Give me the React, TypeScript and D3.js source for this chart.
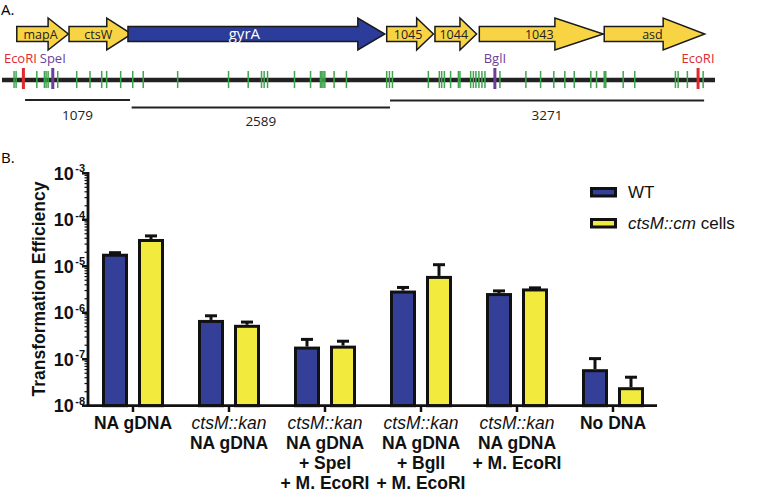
import React, { useRef, useEffect } from "react";
import * as d3 from "d3";

// ---- panel A: gene map (positions in bp, EcoRI = 0) ----
const geneNames = ["mapA", "ctsW", "gyrA", "1045", "1044", "1043", "asd"];
const geneStart = [-68, 469, 1075, 3735, 4231, 4687, 5971];
const geneHead = [254, 857, 3438, 4043, 4488, 5464, 6577];
const geneEnd = [462, 1113, 3715, 4215, 4659, 5961, 7004];

const greenSites = [
  -96, -75, 138, 216, 233, 254, 353, 548, 685, 805, 856, 1000, 1124, 1232, 1586,
  2109, 2311, 2448, 2475, 2510, 2787, 2952, 3054, 3068, 3081, 3099, 3194, 3321,
  3735, 3763, 3794, 4163, 4276, 4300, 4328, 4392, 4472, 4488, 4598, 4626, 4652,
  4683, 4714, 4745, 4899, 5166, 5317, 5453, 5566, 5663, 5833, 5892, 5971, 5987,
  6166, 6285, 6703, 6731, 6826, 6988,
];
const enzymeNames = ["EcoRI", "SpeI", "BglI", "EcoRI"];
const enzymePos = [0, 302, 4847, 6936];
const fragmentLabels = ["1079", "2589", "3271"];
const fragmentStart = [17, 1113, 3769];
const fragmentEnd = [1096, 3769, 6998];

// ---- panel B: transformation efficiency ----
const groups = ["g1", "g2", "g3", "g4", "g5", "g6"];
const groupLabels = [
  ["NA gDNA"],
  ["ctsM::kan", "NA gDNA"],
  ["ctsM::kan", "NA gDNA", "+ SpeI", "+ M. EcoRI"],
  ["ctsM::kan", "NA gDNA", "+ BglI", "+ M. EcoRI"],
  ["ctsM::kan", "NA gDNA", "+ M. EcoRI"],
  ["No DNA"],
];
const series = ["WT", "cm"];
const wtValues = [1.86e-5, 7.0e-7, 1.87e-7, 3.0e-6, 2.65e-6, 6.1e-8];
const wtErr = [0.1e-5, 1.6e-7, 0.8e-7, 0.5e-6, 0.3e-6, 4.2e-8];
const cmValues = [3.86e-5, 5.5e-7, 1.96e-7, 6.2e-6, 3.33e-6, 2.5e-8];
const cmErr = [0.64e-5, 0.8e-7, 0.48e-7, 4.6e-6, 0.1e-6, 1.6e-8];
const yTickExps = [-3, -4, -5, -6, -7, -8];

const FONT = "'Liberation Sans', Arial, Helvetica, sans-serif";
const MAPFONT = "'Open Sans', 'Liberation Sans', Arial, sans-serif";

export default function App() {
  const ref = useRef<SVGSVGElement>(null);

  useEffect(() => {
    const svg = d3.select(ref.current);
    svg.selectAll("*").remove();

    // ================= Panel A =================
    svg.append("text").attr("x", 1).attr("y", 15).attr("font-family", MAPFONT)
      .attr("font-size", 15).text("A.");

    const mx = d3.scaleLinear().domain([-220, 7110]).range([2, 715]);
    const cy = 34;
    const gA = svg.append("g");
    geneNames.forEach((name, i) => {
      const s = mx(geneStart[i]), h = mx(geneHead[i]), e = mx(geneEnd[i]);
      const pts: [number, number][] = [
        [s, cy - 7.5], [h, cy - 7.5], [h, cy - 16], [e, cy],
        [h, cy + 16], [h, cy + 7.5], [s, cy + 7.5],
      ];
      const isBlue = name === "gyrA";
      gA.append("path")
        .attr("d", d3.line()(pts) + "Z")
        .attr("fill", isBlue ? "#2c3c9a" : "#f8d444")
        .attr("stroke", "#1a1a1a")
        .attr("stroke-width", 1.5)
        .attr("stroke-linejoin", "miter");
      gA.append("text")
        .attr("x", (s + e) / 2 - (isBlue ? 12 : 2))
        .attr("y", cy + 4.5)
        .attr("text-anchor", "middle")
        .attr("font-family", MAPFONT)
        .attr("font-size", isBlue ? 15 : 12.5)
        .attr("fill", isBlue ? "#ffffff" : "#222")
        .text(name);
    });

    // DNA line
    const lineY = 80;
    gA.append("line").attr("x1", mx(-220)).attr("x2", mx(7110))
      .attr("y1", lineY).attr("y2", lineY)
      .attr("stroke", "#222").attr("stroke-width", 4.5);
    gA.selectAll("line.site").data(greenSites).join("line")
      .attr("class", "site")
      .attr("x1", (d) => mx(d)).attr("x2", (d) => mx(d))
      .attr("y1", lineY - 9).attr("y2", lineY + 8)
      .attr("stroke", "#3fa64e").attr("stroke-width", 1.5);
    enzymeNames.forEach((name, i) => {
      const col = name === "EcoRI" ? "#e02a2e" : "#6b3f98";
      const x = mx(enzymePos[i]);
      gA.append("line").attr("x1", x).attr("x2", x)
        .attr("y1", lineY - 12).attr("y2", lineY + 9)
        .attr("stroke", col).attr("stroke-width", 3);
      gA.append("text").attr("x", x - (i === 0 ? 3 : 0)).attr("y", 63)
        .attr("text-anchor", "middle").attr("font-family", MAPFONT)
        .attr("font-size", 13).attr("fill", col).text(name);
    });

    // fragments
    const fragY = [100, 107.5, 100.5];
    const fragLabelY = [120, 126, 120];
    fragmentLabels.forEach((lab, i) => {
      gA.append("line").attr("x1", mx(fragmentStart[i])).attr("x2", mx(fragmentEnd[i]))
        .attr("y1", fragY[i]).attr("y2", fragY[i])
        .attr("stroke", "#222").attr("stroke-width", 2);
      gA.append("text")
        .attr("x", (mx(fragmentStart[i]) + mx(fragmentEnd[i])) / 2)
        .attr("y", fragLabelY[i]).attr("text-anchor", "middle")
        .attr("font-family", MAPFONT).attr("font-size", 13.5).attr("fill", "#222")
        .text(lab);
    });

    // ================= Panel B =================
    svg.append("text").attr("x", 1).attr("y", 163).attr("font-family", MAPFONT)
      .attr("font-size", 15).text("B.");

    const y = d3.scaleLog().domain([1e-8, 1e-3]).range([405.7, 173.3]);
    const x0 = d3.scaleBand().domain(groups).range([85, 661]);
    const x1 = d3.scaleBand().domain(series).range([-31, 31]).paddingInner(0.278);
    const axisX = 88;
    const g = svg.append("g");

    const colors: Record<string, string> = { WT: "#343f98", cm: "#f2ea3c" };
    const vals: Record<string, number[]> = { WT: wtValues, cm: cmValues };
    const errs: Record<string, number[]> = { WT: wtErr, cm: cmErr };

    groups.forEach((gr, i) => {
      const cx = x0(gr)! + x0.bandwidth() / 2;
      series.forEach((s) => {
        const v = vals[s][i];
        const bx = cx + x1(s)!;
        const bw = x1.bandwidth();
        const top = y(v);
        const capY = y(v + errs[s][i]);
        const mid = bx + bw / 2;
        g.append("line").attr("x1", mid).attr("x2", mid)
          .attr("y1", top).attr("y2", capY)
          .attr("stroke", "#111").attr("stroke-width", 3);
        g.append("line").attr("x1", mid - 6).attr("x2", mid + 6)
          .attr("y1", capY).attr("y2", capY)
          .attr("stroke", "#111").attr("stroke-width", 3);
        g.append("rect")
          .attr("x", bx + 1.5).attr("width", bw - 3)
          .attr("y", top + 1.5).attr("height", y(1e-8) - top - 1.5)
          .attr("fill", colors[s]).attr("stroke", "#111").attr("stroke-width", 3);
      });
    });

    // y axis
    const allTicks = y.ticks();
    allTicks.forEach((t) => {
      const e = Math.log10(t);
      const major = Math.abs(e - Math.round(e)) < 1e-9;
      g.append("line").attr("x1", axisX - (major ? 6 : 3.5)).attr("x2", axisX)
        .attr("y1", y(t)).attr("y2", y(t))
        .attr("stroke", "#111").attr("stroke-width", major ? 2.5 : 1.2);
    });
    g.append("line").attr("x1", axisX).attr("x2", axisX)
      .attr("y1", 172).attr("y2", 407)
      .attr("stroke", "#111").attr("stroke-width", 2.8);
    yTickExps.forEach((e) => {
      const t = g.append("text").attr("x", 85).attr("y", y(Math.pow(10, e)) + 6.5)
        .attr("text-anchor", "end").attr("font-family", FONT)
        .attr("font-weight", "bold").attr("font-size", 18).attr("fill", "#111");
      t.append("tspan").text("10");
      t.append("tspan").attr("dy", -7.5).attr("dx", 1.5).attr("font-size", 11).text(String(e));
    });
    g.append("text")
      .attr("transform", "translate(45,289) rotate(-90)")
      .attr("text-anchor", "middle").attr("font-family", FONT)
      .attr("font-weight", "bold").attr("font-size", 17.5).attr("fill", "#111")
      .text("Transformation Efficiency");

    // x axis
    g.append("line").attr("x1", axisX - 1.4).attr("x2", 657)
      .attr("y1", 405.7).attr("y2", 405.7)
      .attr("stroke", "#111").attr("stroke-width", 2.8);
    groups.forEach((gr, i) => {
      const cx = x0(gr)! + x0.bandwidth() / 2;
      g.append("line").attr("x1", cx).attr("x2", cx)
        .attr("y1", 405.7).attr("y2", 412)
        .attr("stroke", "#111").attr("stroke-width", 2.5);
      groupLabels[i].forEach((line, j) => {
        const italic = line.startsWith("ctsM");
        g.append("text").attr("x", cx).attr("y", 429 + j * 20)
          .attr("text-anchor", "middle").attr("font-family", FONT)
          .attr("font-size", 17.5)
          .attr("font-weight", italic ? "normal" : "bold")
          .attr("font-style", italic ? "italic" : "normal")
          .attr("fill", "#111").text(line);
      });
    });

    // legend
    const legY = [187, 218];
    series.forEach((s, i) => {
      g.append("rect").attr("x", 591.5).attr("y", legY[i] + 1.5)
        .attr("width", 24).attr("height", 7.5)
        .attr("fill", colors[s]).attr("stroke", "#111").attr("stroke-width", 3);
      const t = g.append("text").attr("x", 628).attr("y", legY[i] + 10.5)
        .attr("font-family", FONT).attr("font-size", 17).attr("fill", "#111");
      if (s === "WT") t.text("WT");
      else {
        t.append("tspan").attr("font-style", "italic").text("ctsM::cm");
        t.append("tspan").text(" cells");
      }
    });
  }, []);

  return (
    <svg
      ref={ref}
      width={757}
      height={492}
      style={{ position: "absolute", left: 0, top: 0, background: "#fff" }}
    />
  );
}
